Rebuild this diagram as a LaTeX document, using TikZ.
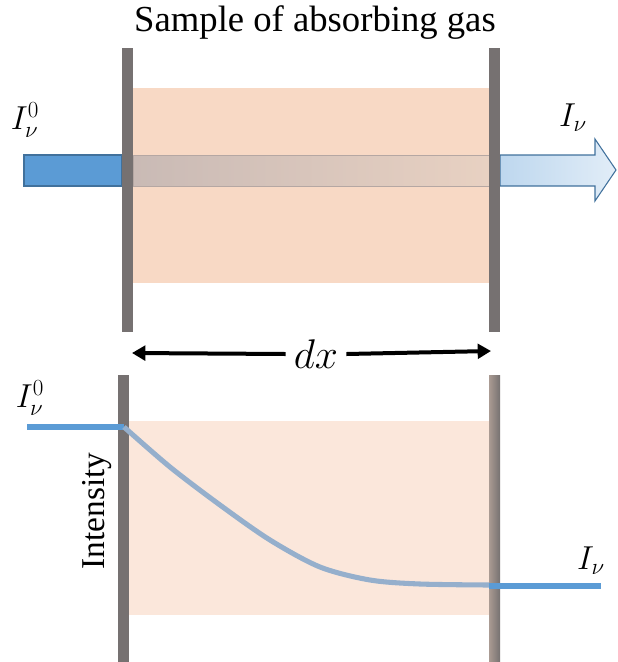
\documentclass[tikz,border=0pt]{standalone}
\usepackage{fontspec}
\setmainfont{Liberation Serif}
\newfontfamily\timesfont{Liberation Serif}
\usetikzlibrary{arrows.meta}
\definecolor{wallgray}{HTML}{767171}
\definecolor{gastop}{HTML}{F8D9C5}
\definecolor{gasbot}{HTML}{FBE7DB}
\definecolor{beamblue}{HTML}{5B9BD5}
\definecolor{beamedge}{HTML}{41719C}
\definecolor{beamleft}{HTML}{C9BAB5}
\definecolor{beamright}{HTML}{E8D1C2}
\definecolor{curvegray}{HTML}{95AFCC}

\begin{document}
\begin{tikzpicture}[x=0.75pt,y=-0.75pt,
    wall/.style={fill=wallgray},
    lbl/.style={font=\fontsize{26}{28}\selectfont,inner sep=0pt},
    txt/.style={font=\timesfont\fontsize{27.5}{30}\selectfont,inner sep=0pt}]
  \useasboundingbox (0,0) rectangle (618,662);
  \fill[gastop] (133,88) rectangle (489,283);
  \fill[gasbot] (129,421) rectangle (489,615);
  \shade[left color=beamleft,right color=beamright,draw=beamleft!90!black] (133,155) rectangle (489,186);
  \draw[fill=beamblue,draw=beamedge,line width=0.8pt] (24,155) rectangle (122,186);
  \shade[left color=beamblue!40,right color=beamblue!18,draw=beamedge,line width=0.8pt]
    (500,155) -- (595,155) -- (595,139) -- (616,170) -- (595,201) -- (595,186) -- (500,186) -- cycle;
  \fill[wall] (122,48) rectangle (133,332);
  \fill[wall] (489,48) rectangle (500,332);
  \fill[wall] (118,375) rectangle (129,662);
  \shade[left color=wallgray!60!gastop,right color=wallgray] (489,375) rectangle (500,662);
  \node[txt] (title) at (315,23) {Sample of absorbing gas};
  \node[lbl] (inl) at (25,120) {$I_\nu^0$};
  \node[lbl] (outl) at (573,118) {$I_\nu$};
  \node[lbl,scale=1.25] (dx) at (316,354) {$dx$};
  \coordinate (dxa) at (132,353);
  \coordinate (dxb) at (491,351);
  \draw[line width=3pt,-{Triangle[length=10pt,width=11pt]}] ([xshift=-6pt]dx.west) -- (dxa);
  \draw[line width=3pt,-{Triangle[length=10pt,width=11pt]}] ([xshift=6pt]dx.east) -- (dxb);
  \node[lbl] (inb) at (30,398) {$I_\nu^0$};
  \node[lbl] (outb) at (591,561) {$I_\nu$};
  \node[txt,rotate=90,font=\timesfont\fontsize{25}{27}\selectfont] (axis) at (97,511) {Intensity};
  \draw[beamblue,line width=3.8pt] (27,427) -- (124,427);
  \draw[curvegray,line width=3.8pt] plot[smooth] coordinates {(124,427) (170,467) (220,505) (270,540) (320,567) (370,580) (420,584) (489,585)};
  \draw[beamblue,line width=3.8pt] (489,586) -- (601,586);
\end{tikzpicture}
\end{document}
